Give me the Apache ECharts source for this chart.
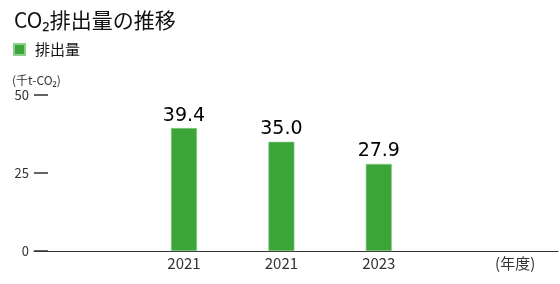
<!DOCTYPE html>
<html><head><meta charset="utf-8">
<script src="https://cdn.jsdelivr.net/npm/echarts@6/dist/echarts.min.js"></script>
<style>html,body{margin:0;padding:0;background:#fff}#c{width:560px;height:284px}</style>
</head><body><div id="c"></div>
<script>
const categories = ['2021', '2021', '2023'];
const emissions = [39.4, 35.0, 27.9];
const yTicks = [0, 25, 50];
const yearUnit = '(年度)';
const valueUnit = '(千t-CO₂)';
const seriesName = '排出量';
const titleText = 'CO₂排出量の推移';

const positions = categories.map((_, i) => i + 1);
const unitPos = 4.4;
const labelMap = {};
positions.forEach((p, i) => labelMap[p] = categories[i]);
labelMap[unitPos] = yearUnit;

const chart = echarts.init(document.getElementById('c'));
const jp = '"Noto Sans CJK JP", "Noto Sans", sans-serif';
chart.setOption({
  animation: false,
  textStyle: { fontFamily: jp },
  title: { text: titleText, left: 9, top: 5, textStyle: { fontFamily: jp, fontSize: 21, fontWeight: 'normal', color: '#111' } },
  legend: { left: 8, top: 37, icon: 'rect', itemWidth: 11, itemHeight: 11, itemGap: 8,
    textStyle: { fontFamily: jp, fontSize: 15, color: '#111', padding: [0, 0, 0, 5] }, data: [seriesName] },
  grid: { left: 34, right: 2, top: 95, bottom: 33, containLabel: false },
  xAxis: {
    type: 'value', min: -0.54, max: 4.84,
    splitLine: { show: false },
    axisLine: { show: true, onZero: false, lineStyle: { color: '#333', width: 1 } },
    axisTick: { show: false },
    axisLabel: { customValues: positions.concat([unitPos]), formatter: v => labelMap[v] || '',
      fontFamily: jp, fontSize: 15, color: '#333', margin: 5 }
  },
  yAxis: {
    type: 'value', min: 0, max: 50, interval: 25,
    name: valueUnit, nameLocation: 'end', nameGap: 9,
    nameTextStyle: { fontFamily: jp, fontSize: 12, color: '#333', align: 'left', padding: [0, 0, 0, -22] },
    splitLine: { show: false },
    axisLine: { show: false, onZero: false },
    axisTick: { show: true, inside: true, length: 14, lineStyle: { color: '#333', width: 1.5 } },
    axisLabel: { fontFamily: jp, fontSize: 13, color: '#333', margin: 5, customValues: yTicks }
  },
  series: [{
    name: seriesName, type: 'bar', barWidth: 26,
    itemStyle: { color: '#3ba53a', borderColor: '#8ccf8a', borderWidth: 0.6 },
    label: { show: true, position: 'top', distance: 3, formatter: p => p.value[1].toFixed(1),
      fontFamily: '"DejaVu Sans", sans-serif', fontSize: 19, color: '#000' },
    data: positions.map((p, i) => [p, emissions[i]])
  }]
});
</script></body></html>
